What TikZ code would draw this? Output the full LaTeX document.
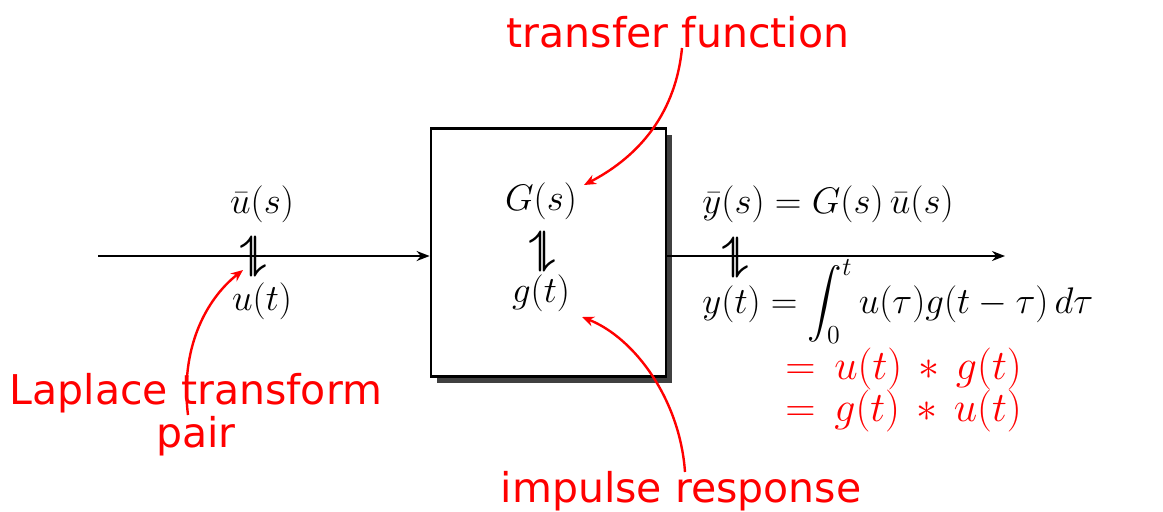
\RequirePackage{fix-cm}
\documentclass[tikz,border=0pt]{standalone}
\usepackage{amsmath}
\usepackage{fontspec}
\newfontfamily\lblfont{DejaVu Sans}
\usetikzlibrary{arrows.meta,shadows}
\newcommand{\mfs}{\fontsize{18.5}{22}\selectfont}
\newcommand{\rfs}{\fontsize{21}{25}\selectfont}
\newcommand{\tfs}{\lblfont\fontsize{20.5}{21.5}\selectfont}
\begin{document}
\begin{tikzpicture}[x=0.5pt,y=-0.5pt,
  mlbl/.style={inner sep=0pt, font=\mfs, anchor=base},
  meq/.style={inner sep=0pt, font=\mfs, anchor=base west},
  req/.style={inner sep=0pt, font=\rfs, text=red, anchor=base west},
  rlbl/.style={inner sep=0pt, font=\tfs, text=red, anchor=base, align=center},
  sig/.style={line width=1pt, -{Stealth[length=6.5pt,width=5pt]}},
  note/.style={red, line width=1.2pt, -{Stealth[length=6pt,width=5pt]}},
  hp/.style={inner sep=0pt, font=\fontsize{20}{24}\selectfont, rotate=90},
  blk/.style={draw, line width=1.4pt, fill=white, minimum width=117.5pt, minimum height=124pt,
    drop shadow={opacity=1, fill=black!75, shadow xshift=3pt, shadow yshift=-3pt}}]
\useasboundingbox (0,0) rectangle (1163,511);

% block
\node[blk] (box) at (548.5,252.5) {};

% signals
\coordinate (in) at (98,256);
\coordinate (out) at (1005,256);
\draw[sig] (in) -- (in -| box.west);
\draw[sig] (box.east |- out) -- (out);

% harpoons
\node[hp] (h1) at (256,256) {$\boldsymbol{\rightleftharpoons}$};
\node[hp] (h2) at (738,257) {$\boldsymbol{\rightleftharpoons}$};
\node[hp] (h3) at (545,251) {$\boldsymbol{\rightleftharpoons}$};

% math labels
\node[mlbl] (us) at (262,213) {$\bar u(s)$};
\node[mlbl] (ut) at (262,310) {$u(t)$};
\node[mlbl] (Gs) at (541,210) {$G(s)$};
\node[mlbl] (gt) at (541,302) {$g(t)$};
\node[meq] (ys) at (702,213) {$\bar y(s) = G(s)\,\bar u(s)$};
\node[meq] (yt) at (702,313) {$\displaystyle y(t) = \int_0^t u(\tau)g(t-\tau)\,d\tau$};
\node[req] (c1) at (785,379) {$=\, u(t) \,\ast\, g(t)$};
\node[req] (c2) at (785,421) {$=\, g(t) \,\ast\, u(t)$};

% red annotations
\node[rlbl] (tf) at (678,47) {transfer function};
\node[rlbl] (ir) at (681,502) {impulse response};
\node[rlbl] (lp) at (196,447) {Laplace transform\\pair};

\coordinate (tfs) at (682,48);
\coordinate (tfe) at (584,185);
\coordinate (irs) at (685,472);
\coordinate (ire) at (582,317);
\coordinate (lps) at (188,415);
\coordinate (lpe) at (243,270);
\draw[note] (tfs) .. controls (675,120) and (632,160) .. (tfe);
\draw[note] (irs) .. controls (680,400) and (635,338) .. (ire);
\draw[note] (lps) .. controls (180,350) and (205,300) .. (lpe);
\end{tikzpicture}
\end{document}
